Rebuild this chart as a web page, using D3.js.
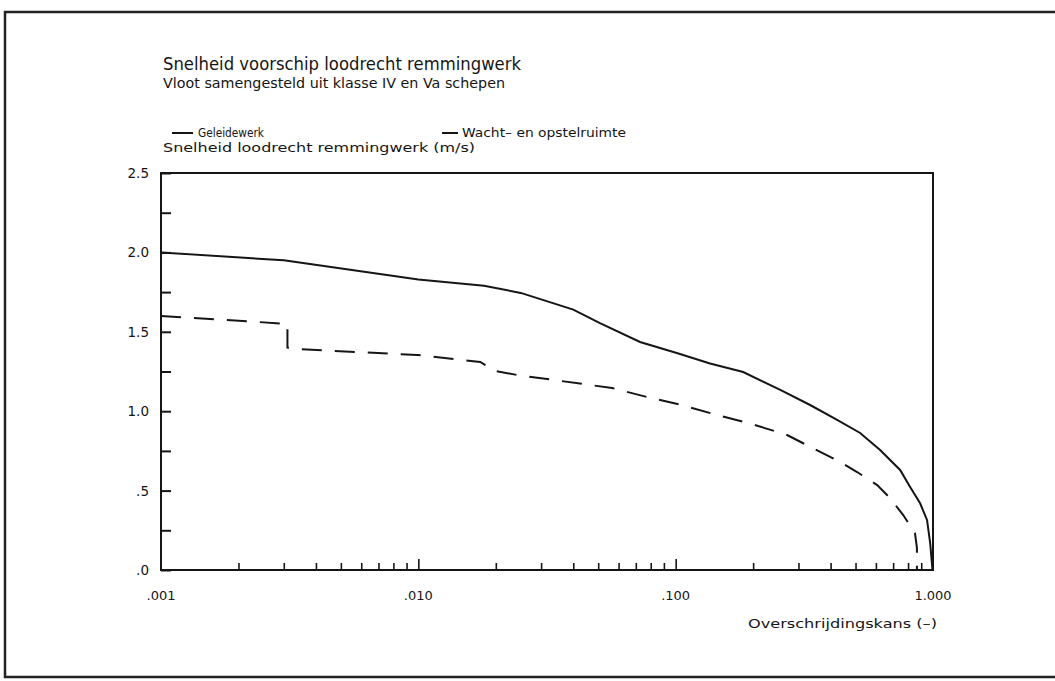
<!doctype html>
<html lang="nl">
<head>
  <meta charset="utf-8">
  <script src="https://cdn.jsdelivr.net/npm/d3@7"></script>
  <style>
    body { margin: 0; background: #fff; }
    text { font-family: "DejaVu Sans", sans-serif; fill: #151515; }
  </style>
</head>
<body>
<script>
  // Geleidewerk (doorgetrokken lijn)
  var geleiKans = [0.001, 0.003, 0.01, 0.018, 0.025, 0.04, 0.0508, 0.0727, 0.101, 0.136, 0.183, 0.255, 0.333, 0.424, 0.521, 0.623, 0.745, 0.815, 0.891, 0.948, 0.975, 0.993, 0.995];
  var geleiSnel = [2.0, 1.95, 1.83, 1.79, 1.745, 1.64, 1.555, 1.436, 1.367, 1.30, 1.247, 1.134, 1.039, 0.945, 0.863, 0.756, 0.63, 0.523, 0.42, 0.315, 0.17, 0.02, 0.0];
  // Wacht- en opstelruimte (gestreepte lijn)
  var wachtKans = [0.001, 0.0031, 0.0031, 0.00347, 0.0099, 0.0174, 0.0199, 0.0242, 0.0324, 0.0566, 0.0774, 0.106, 0.145, 0.198, 0.271, 0.371, 0.443, 0.507, 0.607, 0.681, 0.766, 0.851, 0.866, 0.866];
  var wachtSnel = [1.60, 1.55, 1.40, 1.39, 1.354, 1.31, 1.253, 1.228, 1.20, 1.146, 1.089, 1.038, 0.976, 0.919, 0.85, 0.737, 0.674, 0.617, 0.535, 0.453, 0.346, 0.233, 0.14, 0.0];

  var yTicks = [0, 0.25, 0.5, 0.75, 1, 1.25, 1.5, 1.75, 2, 2.25, 2.5];
  var yLabels = [".0", "", ".5", "", "1.0", "", "1.5", "", "2.0", "", "2.5"];
  var xMajor = [0.001, 0.01, 0.1, 1];
  var xLabels = [".001", ".010", ".100", "1.000"];

  var w = 1055, h = 681;
  var svg = d3.select("body").append("svg").attr("width", w).attr("height", h);

  // outer frame
  svg.append("path")
    .attr("d", "M1060,12 H5 V677 H1060")
    .attr("fill", "none").attr("stroke", "#222").attr("stroke-width", 2.5);

  var x = d3.scaleLog().domain([0.001, 1]).range([161, 933]);
  var y = d3.scaleLinear().domain([0, 2.5]).range([570, 173]);

  // plot box
  svg.append("rect")
    .attr("x", x(0.001)).attr("y", y(2.5))
    .attr("width", x(1) - x(0.001)).attr("height", y(0) - y(2.5))
    .attr("fill", "none").attr("stroke", "#151515").attr("stroke-width", 2);

  // y ticks
  svg.append("g")
    .attr("transform", "translate(" + x(0.001) + ",0)")
    .call(d3.axisRight(y).tickValues(yTicks).tickSize(10).tickFormat(""))
    .call(function(g){ g.select(".domain").remove(); g.selectAll("line").attr("stroke-width", 2).attr("stroke", "#151515"); });

  svg.selectAll(".ylab").data(yTicks).enter().append("text")
    .attr("class", "ylab")
    .attr("x", 149).attr("y", function(d){ return y(d) + 5; })
    .attr("text-anchor", "end").attr("font-size", 13.5)
    .text(function(d, i){ return yLabels[i]; });

  // x ticks: minor 2..9 per decade, major at decades
  var xMinor = [];
  [0.001, 0.01, 0.1].forEach(function(b){
    for (var k = 2; k <= 9; k++) xMinor.push(b * k);
  });
  svg.append("g")
    .attr("transform", "translate(0," + y(0) + ")")
    .call(d3.axisTop(x).tickValues(xMinor).tickSize(7).tickFormat(""))
    .call(function(g){ g.select(".domain").remove(); g.selectAll("line").attr("stroke-width", 1.6).attr("stroke", "#151515"); });
  svg.append("g")
    .attr("transform", "translate(0," + y(0) + ")")
    .call(d3.axisTop(x).tickValues([0.01, 0.1]).tickSize(11).tickFormat(""))
    .call(function(g){ g.select(".domain").remove(); g.selectAll("line").attr("stroke-width", 1.6).attr("stroke", "#151515"); });

  svg.selectAll(".xlab").data(xMajor).enter().append("text")
    .attr("class", "xlab")
    .attr("x", function(d){ return x(d); }).attr("y", 600)
    .attr("text-anchor", "middle").attr("font-size", 13)
    .text(function(d, i){ return xLabels[i]; });

  // lines
  var line = d3.line().x(function(d){ return x(d[0]); }).y(function(d){ return y(d[1]); });
  svg.append("path")
    .datum(d3.zip(geleiKans, geleiSnel))
    .attr("d", line)
    .attr("fill", "none").attr("stroke", "#151515").attr("stroke-width", 2);
  svg.append("path")
    .datum(d3.zip(wachtKans, wachtSnel))
    .attr("d", line)
    .attr("fill", "none").attr("stroke", "#151515").attr("stroke-width", 2)
    .attr("stroke-dasharray", "20,13");

  // texts
  function txt(s, tx, ty, size, len) {
    var t = svg.append("text").attr("x", tx).attr("y", ty).attr("font-size", size).text(s);
    if (len) t.attr("textLength", len).attr("lengthAdjust", "spacingAndGlyphs");
    return t;
  }
  txt("Snelheid voorschip loodrecht remmingwerk", 163, 70, 18, 358);
  txt("Vloot samengesteld uit klasse IV en Va schepen", 163, 88, 13.5, 342);

  svg.append("line").attr("x1", 172).attr("x2", 193).attr("y1", 133).attr("y2", 133)
    .attr("stroke", "#151515").attr("stroke-width", 2);
  txt("Geleidewerk", 198, 137, 11.5, 66);
  svg.append("line").attr("x1", 442).attr("x2", 458).attr("y1", 133).attr("y2", 133)
    .attr("stroke", "#151515").attr("stroke-width", 2);
  txt("Wacht\u2013 en opstelruimte", 462, 137, 11.5, 164);

  txt("Snelheid loodrecht remmingwerk (m/s)", 163, 152, 12.5, 312);
  txt("Overschrijdingskans (\u2013)", 748, 628, 13, 189);
</script>
</body>
</html>
